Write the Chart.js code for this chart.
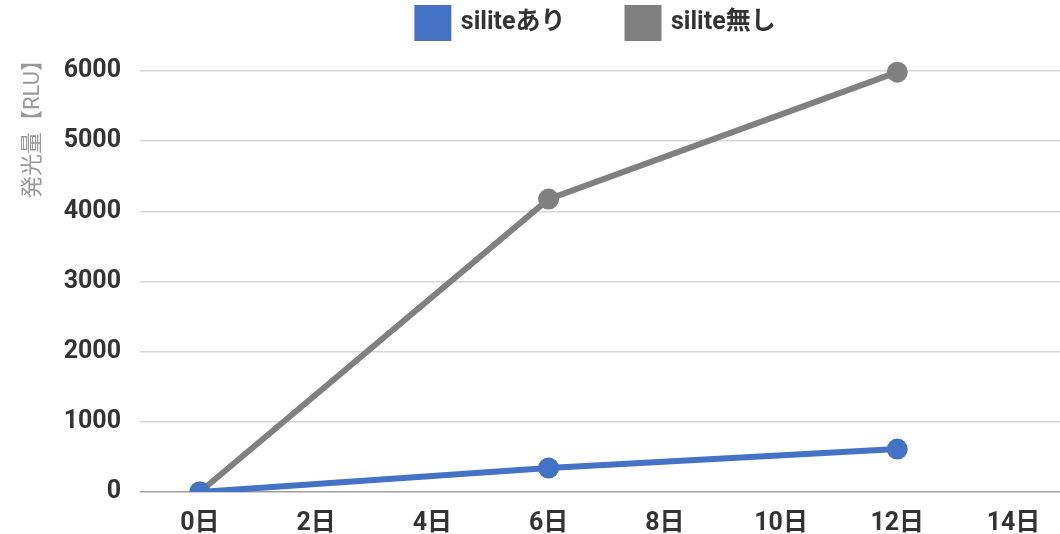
<!DOCTYPE html>
<html>
<head>
<meta charset="utf-8">
<script src="https://cdn.jsdelivr.net/npm/chart.js@4.4.1/dist/chart.umd.min.js"></script>
<style>
  html, body { margin: 0; padding: 0; background: #fff; overflow: hidden; }
  canvas { display: block; }
</style>
</head>
<body>
<canvas id="lightChart" width="1060" height="534"></canvas>
<script>
// data
const days = [0, 6, 12];
const withSilite = [0, 342, 612];
const withoutSilite = [0, 4174, 5983];
const seriesNames = ['siliteあり', 'silite無し'];
const xTicks = [0, 2, 4, 6, 8, 10, 12, 14];
const yTicks = [0, 1000, 2000, 3000, 4000, 5000, 6000];

const fontFamily = "Roboto, 'Noto Sans CJK JP', sans-serif";
const legendGap = 62;

function toPoints(xs, ys) {
    return xs.map((x, i) => ({ x: x, y: ys[i] }));
}

// legend centred over the plot area, boxes near the top edge;
// y title lifted a little above the plot top like the original
const placer = {
    id: 'placer',
    beforeDraw(chart) {
        const legend = chart.legend;
        legend.left = chart.chartArea.left - 7;
        legend.right = chart.chartArea.right;
        legend.top = 8 - legendGap;
        chart.scales.y.top = chart.chartArea.top - 22;
    }
};

window.onload = function () {
    const ctx = document.getElementById('lightChart').getContext('2d');
    new Chart(ctx, {
        type: 'line',
        data: {
            datasets: [{
                label: seriesNames[0],
                data: toPoints(days, withSilite),
                borderColor: '#4472c4',
                backgroundColor: '#4472c4',
                borderWidth: 6,
                pointRadius: 7.5,
                pointHoverRadius: 7.5
            }, {
                label: seriesNames[1],
                data: toPoints(days, withoutSilite),
                borderColor: '#808080',
                backgroundColor: '#808080',
                borderWidth: 6,
                pointRadius: 7.5,
                pointHoverRadius: 7.5
            }]
        },
        plugins: [placer],
        options: {
            responsive: false,
            animation: false,
            layout: { padding: 0, autoPadding: false },
            plugins: {
                legend: {
                    maxHeight: 71,
                    labels: {
                        boxWidth: 31,
                        boxHeight: 30,
                        padding: legendGap,
                        color: '#333',
                        font: { family: fontFamily, size: 25, weight: 'bold' }
                    }
                },
                tooltip: { enabled: false }
            },
            scales: {
                x: {
                    type: 'linear',
                    min: -1.03,
                    max: 14.8,
                    afterBuildTicks: (axis) => {
                        axis.ticks = xTicks.map(v => ({ value: v }));
                    },
                    afterFit: (axis) => {
                        axis.height = 42;
                        axis.paddingLeft = 0;
                        axis.paddingRight = 0;
                    },
                    grid: { display: false, drawTicks: false },
                    border: { display: false },
                    ticks: {
                        padding: 17,
                        color: '#333',
                        font: { family: fontFamily, size: 25, weight: 'bold' },
                        callback: (v) => v + '日'
                    }
                },
                y: {
                    min: 0,
                    max: 6000,
                    afterBuildTicks: (axis) => {
                        axis.ticks = yTicks.map(v => ({ value: v }));
                    },
                    afterFit: (axis) => {
                        axis.width = 140;
                    },
                    border: { display: false },
                    grid: {
                        drawTicks: false,
                        lineWidth: 1.5,
                        color: (c) => c.tick && c.tick.value === 0 ? '#9e9e9e' : '#d6d6d6'
                    },
                    ticks: {
                        padding: 19,
                        color: '#333',
                        font: { family: fontFamily, size: 25, weight: 'bold' },
                        callback: (v) => String(v)
                    },
                    title: {
                        display: true,
                        text: '発光量【RLU】',
                        align: 'end',
                        color: '#999',
                        padding: { top: 20, bottom: 16 },
                        font: { family: fontFamily, size: 22 }
                    }
                }
            }
        }
    });
};
</script>
</body>
</html>
